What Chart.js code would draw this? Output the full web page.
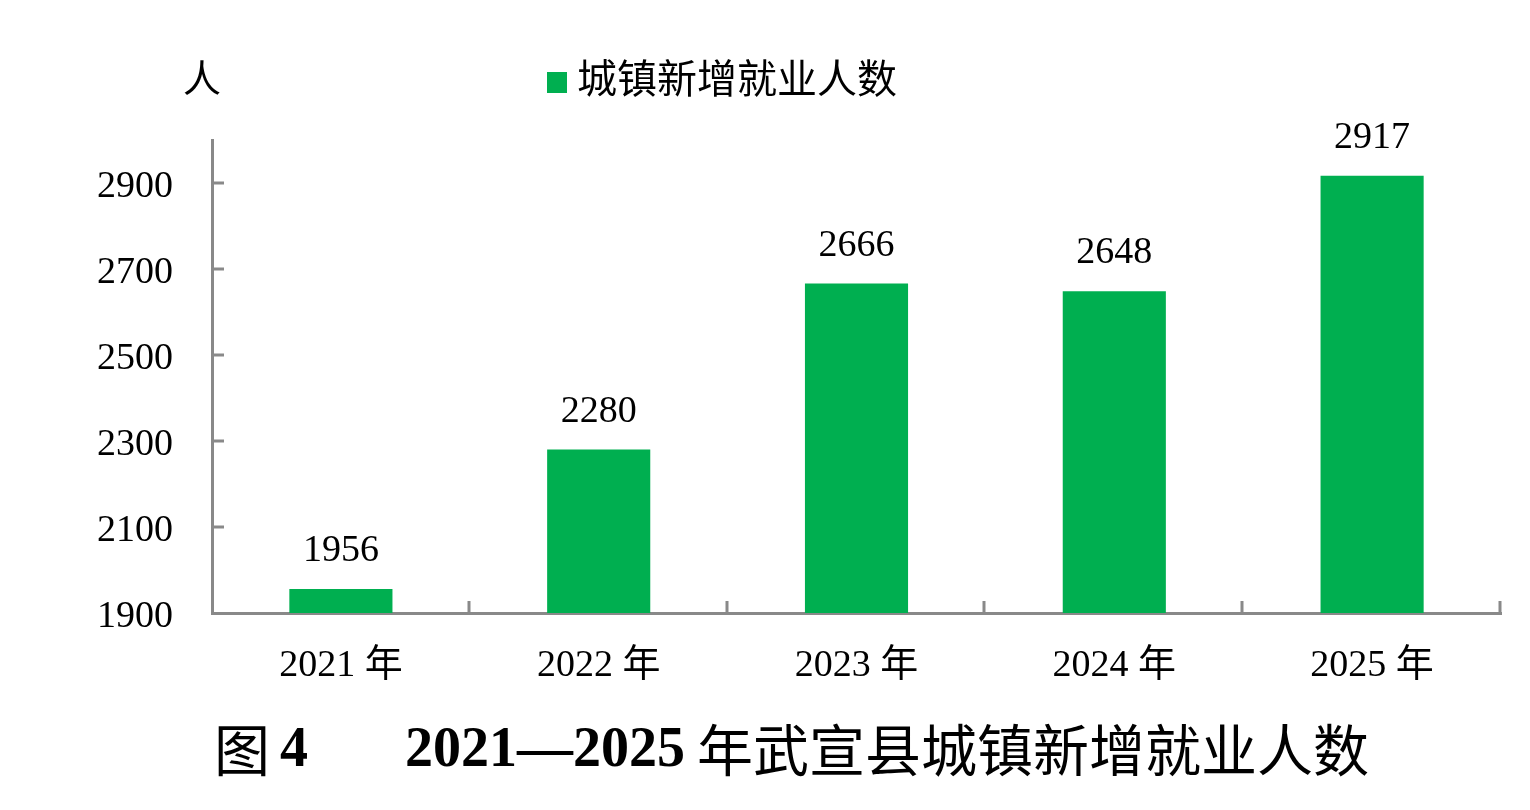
<!DOCTYPE html>
<html><head><meta charset="utf-8">
<script src="https://cdn.jsdelivr.net/npm/chart.js@4.4.1/dist/chart.umd.min.js"></script>
<style>html,body{margin:0;padding:0;background:#fff;overflow:hidden}#wrap{position:relative;width:1530px;height:810px}</style>
</head><body><div id="wrap"><canvas id="c" width="1530" height="810"></canvas></div>
<script>
const categories = ['2021 年', '2022 年', '2023 年', '2024 年', '2025 年'];
const seriesName = '城镇新增就业人数';
const values = [1956, 2280, 2666, 2648, 2917];
const yTickValues = [1900, 2100, 2300, 2500, 2700, 2900];
const yUnit = '人';
const titleFigure = '图';
const titleNumber = '4';
const titleYears = '2021—2025';
const titleText = '年武宣县城镇新增就业人数';

const GREEN = '#00AF50';
const AXIS = '#898989';
const SERIF = "'Liberation Serif', 'Noto Sans CJK SC'";
const CJK = "'Noto Sans CJK SC'";

const decor = {
  id: 'decor',
  afterDraw(chart) {
    const ctx = chart.ctx;
    const x = chart.scales.x, y = chart.scales.y;
    ctx.save();
    // inward y tick marks
    ctx.strokeStyle = AXIS; ctx.lineWidth = 3;
    yTickValues.forEach(v => {
      if (v === y.min) return;
      const py = Math.round(y.getPixelForValue(v));
      ctx.beginPath(); ctx.moveTo(x.left, py); ctx.lineTo(x.left + 12, py); ctx.stroke();
    });
    // upward x tick marks at category boundaries
    const w = (x.right - x.left) / categories.length;
    for (let k = 1; k <= categories.length; k++) {
      const px = Math.round(x.left + k * w) - 1;
      ctx.beginPath(); ctx.moveTo(px, y.bottom); ctx.lineTo(px, y.bottom - 12); ctx.stroke();
    }
    // data labels
    ctx.fillStyle = '#000';
    ctx.font = "38px " + SERIF;
    ctx.textAlign = 'center'; ctx.textBaseline = 'alphabetic';
    const meta = chart.getDatasetMeta(0);
    meta.data.forEach((bar, i) => {
      ctx.fillText(String(values[i]), bar.x, bar.y - 28);
    });
    // unit label
    ctx.font = "38px " + CJK;
    ctx.textBaseline = 'middle';
    ctx.fillText(yUnit, 202, 78);
    // legend
    ctx.fillStyle = GREEN;
    ctx.fillRect(547, 72, 20, 21);
    ctx.fillStyle = '#000';
    ctx.textAlign = 'left';
    ctx.font = "40px " + CJK;
    ctx.fillText(seriesName, 577, 78);
    // title
    let tx = 214;
    const ty = 750;
    ctx.font = "56px " + CJK;
    ctx.fillText(titleFigure, tx, ty);
    tx += ctx.measureText(titleFigure).width + 10;
    ctx.font = "bold 56px 'Liberation Serif'";
    ctx.fillText(titleNumber, tx, ty + 2);
    ctx.fillText(titleYears, 405, ty + 2);
    ctx.font = "56px " + CJK;
    ctx.fillText(titleText, 697, ty);
    ctx.restore();
  }
};

new Chart(document.getElementById('c'), {
  type: 'bar',
  data: {
    labels: categories,
    datasets: [{
      label: seriesName,
      data: values,
      backgroundColor: GREEN,
      borderWidth: 0,
      barPercentage: 0.4,
      categoryPercentage: 1.0
    }]
  },
  options: {
    responsive: false,
    animation: false,
    devicePixelRatio: 1,
    layout: { padding: { left: 0, right: 29, top: 140, bottom: 0 } },
    plugins: { legend: { display: false }, title: { display: false }, tooltip: { enabled: false } },
    scales: {
      x: {
        grid: { display: false },
        border: { display: true, color: AXIS, width: 3 },
        ticks: { color: '#000', font: { family: SERIF, size: 38 }, padding: 22, maxRotation: 0 },
        afterFit(s) { s.height = 197; }
      },
      y: {
        min: 1900, max: 3000,
        grid: { display: false },
        border: { display: true, color: AXIS, width: 3 },
        ticks: { color: '#000', font: { family: SERIF, size: 38 }, padding: 31, labelOffset: 4, callback: v => String(v) },
        afterBuildTicks(s) { s.ticks = yTickValues.map(v => ({ value: v })); },
        afterFit(s) { s.width = 212; }
      }
    }
  },
  plugins: [decor]
});
</script></body></html>
